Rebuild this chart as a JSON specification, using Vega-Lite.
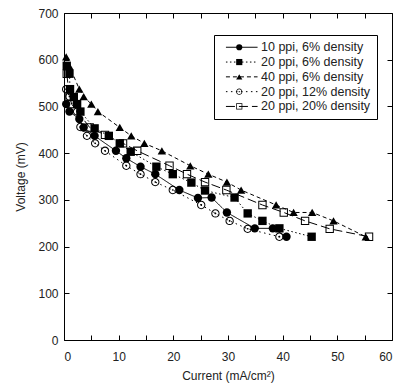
{
  "$schema": "https://vega.github.io/schema/vega-lite/v6.json",
  "autosize": {"type": "none"},
  "padding": {"left": 64, "top": 13, "right": 13, "bottom": 45},
  "width": 328,
  "height": 327,
  "config": {
    "view": {"stroke": null},
    "font": "Liberation Sans",
    "axis": {
      "domainColor": "black",
      "tickColor": "black",
      "grid": false,
      "labelFont": "Liberation Sans",
      "labelFontSize": 12,
      "labelColor": "#222",
      "titleFont": "Liberation Sans",
      "titleFontSize": 12,
      "titleFontWeight": "normal",
      "titleColor": "#222",
      "tickSize": -5
    }
  },
  "data": {
    "values": [
      {"series": "10 ppi, 6% density", "current": 0.4, "voltage": 505},
      {"series": "10 ppi, 6% density", "current": 1.0, "voltage": 489},
      {"series": "10 ppi, 6% density", "current": 2.8, "voltage": 473},
      {"series": "10 ppi, 6% density", "current": 3.6, "voltage": 455},
      {"series": "10 ppi, 6% density", "current": 5.6, "voltage": 437},
      {"series": "10 ppi, 6% density", "current": 9.5, "voltage": 405},
      {"series": "10 ppi, 6% density", "current": 11.4, "voltage": 389},
      {"series": "10 ppi, 6% density", "current": 14.0, "voltage": 371},
      {"series": "10 ppi, 6% density", "current": 16.7, "voltage": 355},
      {"series": "10 ppi, 6% density", "current": 21.1, "voltage": 321},
      {"series": "10 ppi, 6% density", "current": 24.5, "voltage": 304},
      {"series": "10 ppi, 6% density", "current": 27.0, "voltage": 305},
      {"series": "10 ppi, 6% density", "current": 29.8, "voltage": 273},
      {"series": "10 ppi, 6% density", "current": 34.9, "voltage": 239},
      {"series": "10 ppi, 6% density", "current": 38.2, "voltage": 239},
      {"series": "10 ppi, 6% density", "current": 40.7, "voltage": 221},
      {"series": "20 ppi, 6% density", "current": 0.5, "voltage": 587},
      {"series": "20 ppi, 6% density", "current": 1.0, "voltage": 570},
      {"series": "20 ppi, 6% density", "current": 1.1, "voltage": 537},
      {"series": "20 ppi, 6% density", "current": 1.8, "voltage": 520},
      {"series": "20 ppi, 6% density", "current": 2.4, "voltage": 505},
      {"series": "20 ppi, 6% density", "current": 3.0, "voltage": 489},
      {"series": "20 ppi, 6% density", "current": 5.6, "voltage": 453},
      {"series": "20 ppi, 6% density", "current": 8.2, "voltage": 437},
      {"series": "20 ppi, 6% density", "current": 10.2, "voltage": 421},
      {"series": "20 ppi, 6% density", "current": 12.2, "voltage": 403},
      {"series": "20 ppi, 6% density", "current": 16.9, "voltage": 371},
      {"series": "20 ppi, 6% density", "current": 19.9, "voltage": 355},
      {"series": "20 ppi, 6% density", "current": 23.3, "voltage": 337},
      {"series": "20 ppi, 6% density", "current": 25.8, "voltage": 320},
      {"series": "20 ppi, 6% density", "current": 31.2, "voltage": 305},
      {"series": "20 ppi, 6% density", "current": 33.6, "voltage": 271},
      {"series": "20 ppi, 6% density", "current": 36.3, "voltage": 255},
      {"series": "20 ppi, 6% density", "current": 39.4, "voltage": 239},
      {"series": "20 ppi, 6% density", "current": 45.3, "voltage": 221},
      {"series": "40 ppi, 6% density", "current": 0.4, "voltage": 606},
      {"series": "40 ppi, 6% density", "current": 1.0, "voltage": 586},
      {"series": "40 ppi, 6% density", "current": 2.8, "voltage": 537},
      {"series": "40 ppi, 6% density", "current": 3.6, "voltage": 521},
      {"series": "40 ppi, 6% density", "current": 5.0, "voltage": 505},
      {"series": "40 ppi, 6% density", "current": 6.2, "voltage": 489},
      {"series": "40 ppi, 6% density", "current": 10.2, "voltage": 455},
      {"series": "40 ppi, 6% density", "current": 12.3, "voltage": 437},
      {"series": "40 ppi, 6% density", "current": 14.7, "voltage": 421},
      {"series": "40 ppi, 6% density", "current": 17.9, "voltage": 405},
      {"series": "40 ppi, 6% density", "current": 23.1, "voltage": 373},
      {"series": "40 ppi, 6% density", "current": 26.4, "voltage": 355},
      {"series": "40 ppi, 6% density", "current": 29.8, "voltage": 338},
      {"series": "40 ppi, 6% density", "current": 32.4, "voltage": 321},
      {"series": "40 ppi, 6% density", "current": 38.8, "voltage": 289},
      {"series": "40 ppi, 6% density", "current": 42.0, "voltage": 273},
      {"series": "40 ppi, 6% density", "current": 45.4, "voltage": 273},
      {"series": "40 ppi, 6% density", "current": 49.3, "voltage": 255},
      {"series": "40 ppi, 6% density", "current": 55.2, "voltage": 221},
      {"series": "20 ppi, 12% density", "current": 0.4, "voltage": 537},
      {"series": "20 ppi, 12% density", "current": 1.0, "voltage": 521},
      {"series": "20 ppi, 12% density", "current": 2.4, "voltage": 489},
      {"series": "20 ppi, 12% density", "current": 3.0, "voltage": 456},
      {"series": "20 ppi, 12% density", "current": 4.2, "voltage": 437},
      {"series": "20 ppi, 12% density", "current": 5.7, "voltage": 421},
      {"series": "20 ppi, 12% density", "current": 7.5, "voltage": 405},
      {"series": "20 ppi, 12% density", "current": 11.4, "voltage": 373},
      {"series": "20 ppi, 12% density", "current": 14.0, "voltage": 355},
      {"series": "20 ppi, 12% density", "current": 16.7, "voltage": 338},
      {"series": "20 ppi, 12% density", "current": 19.9, "voltage": 321},
      {"series": "20 ppi, 12% density", "current": 25.1, "voltage": 289},
      {"series": "20 ppi, 12% density", "current": 27.7, "voltage": 271},
      {"series": "20 ppi, 12% density", "current": 30.3, "voltage": 255},
      {"series": "20 ppi, 12% density", "current": 33.6, "voltage": 238},
      {"series": "20 ppi, 12% density", "current": 39.4, "voltage": 221},
      {"series": "20 ppi, 20% density", "current": 0.5, "voltage": 570},
      {"series": "20 ppi, 20% density", "current": 1.0, "voltage": 521},
      {"series": "20 ppi, 20% density", "current": 1.4, "voltage": 505},
      {"series": "20 ppi, 20% density", "current": 4.7, "voltage": 455},
      {"series": "20 ppi, 20% density", "current": 7.5, "voltage": 439},
      {"series": "20 ppi, 20% density", "current": 10.8, "voltage": 421},
      {"series": "20 ppi, 20% density", "current": 13.4, "voltage": 405},
      {"series": "20 ppi, 20% density", "current": 19.3, "voltage": 373},
      {"series": "20 ppi, 20% density", "current": 22.5, "voltage": 355},
      {"series": "20 ppi, 20% density", "current": 25.8, "voltage": 338},
      {"series": "20 ppi, 20% density", "current": 29.7, "voltage": 321},
      {"series": "20 ppi, 20% density", "current": 36.3, "voltage": 289},
      {"series": "20 ppi, 20% density", "current": 40.2, "voltage": 273},
      {"series": "20 ppi, 20% density", "current": 44.1, "voltage": 255},
      {"series": "20 ppi, 20% density", "current": 48.6, "voltage": 238},
      {"series": "20 ppi, 20% density", "current": 55.8, "voltage": 221}
    ]
  },
  "resolve": {"axis": {"x": "independent", "y": "independent"}},
  "layer": [
    {
      "mark": {"type": "line", "strokeWidth": 1, "color": "black"},
      "encoding": {
        "x": {
          "field": "current", "type": "quantitative",
          "scale": {"domain": [0, 60], "nice": false},
          "axis": {"orient": "top", "values": [0, 5, 10, 15, 20, 25, 30, 35, 40, 45, 50, 55, 60], "labels": false, "title": null}
        },
        "y": {
          "field": "voltage", "type": "quantitative",
          "scale": {"domain": [0, 700], "nice": false},
          "axis": {"orient": "right", "values": [0, 100, 200, 300, 400, 500, 600, 700], "labels": false, "title": null}
        },
        "strokeDash": {
          "field": "series", "type": "nominal",
          "sort": ["10 ppi, 6% density", "20 ppi, 6% density", "40 ppi, 6% density", "20 ppi, 12% density", "20 ppi, 20% density"],
          "scale": {"range": [[1, 0], [1.5, 2.5], [4, 3], [1.5, 3.5], [9, 4]]},
          "legend": {
            "orient": "none", "legendX": 150, "legendY": 22, "title": null,
            "padding": 6, "strokeColor": "black", "symbolType": "M-5,0H5",
            "symbolSize": 40, "symbolOffset": 15.5, "symbolStrokeWidth": 1, "symbolStrokeColor": "black",
            "labelFont": "Liberation Sans", "labelFontSize": 12.5, "labelColor": "#222",
            "rowPadding": 1.8, "labelOffset": 13
          }
        }
      }
    },
    {
      "mark": {"type": "point", "filled": true, "color": "black", "opacity": 1, "size": 70},
      "encoding": {
        "x": {
          "field": "current", "type": "quantitative",
          "axis": {"orient": "bottom", "values": [0, 5, 10, 15, 20, 25, 30, 35, 40, 45, 50, 55, 60], "labelExpr": "datum.value % 10 === 0 ? datum.label : ''", "title": "Current (mA/cm²)", "labelPadding": 16, "titlePadding": 8}
        },
        "y": {
          "field": "voltage", "type": "quantitative",
          "axis": {"orient": "left", "values": [0, 100, 200, 300, 400, 500, 600, 700], "title": "Voltage (mV)", "labelPadding": 11, "titlePadding": 10}
        },
        "shape": {
          "field": "series", "type": "nominal",
          "scale": {
            "domain": ["10 ppi, 6% density", "20 ppi, 6% density", "40 ppi, 6% density", "20 ppi, 12% density", "20 ppi, 20% density"],
            "range": [
              "circle",
              "square",
              "triangle-up",
              "M1,0A1,1,0,1,1,-1,0A1,1,0,1,1,1,0ZM0.76,0A0.76,0.76,0,1,0,-0.76,0A0.76,0.76,0,1,0,0.76,0ZM0.22,0A0.22,0.22,0,1,1,-0.22,0A0.22,0.22,0,1,1,0.22,0Z",
              "M-1,-1H1V1H-1ZM-0.76,-0.76V0.76H0.76V-0.76Z"
            ]
          },
          "legend": {
            "orient": "none", "legendX": 150, "legendY": 22, "title": null,
            "padding": 6, "symbolSize": 38, "symbolOffset": 13,
            "symbolFillColor": "black", "symbolStrokeColor": "transparent", "symbolOpacity": 1,
            "labelFont": "Liberation Sans", "labelFontSize": 12.5, "labelExpr": "' '",
            "rowPadding": 1.8, "labelOffset": 3
          }
        }
      }
    }
  ]
}
